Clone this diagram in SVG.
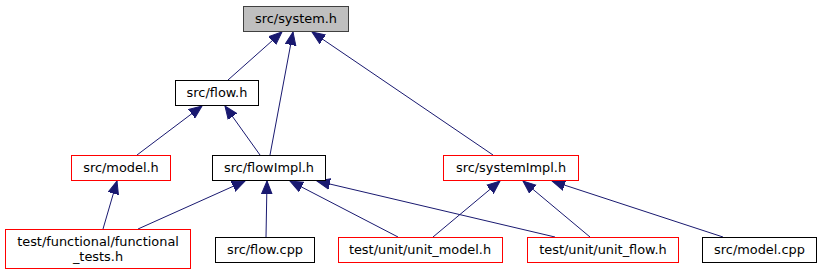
<svg xmlns="http://www.w3.org/2000/svg" width="821" height="276" viewBox="0 0 821 276">
  <style>
    .box { stroke-width: 1; fill: #ffffff; }
    .plain { stroke: #000000; }
    .red { stroke: #ff0000; }
    .root { fill: #bfbfbf; stroke: #404040; }
    text { font-family: "DejaVu Sans", sans-serif; font-size: 12.9px; fill: #000000; text-anchor: middle; }
    .edge { stroke: #191970; stroke-width: 1; fill: none; marker-end: url(#arrow); }
  </style>
  <defs>
    <marker id="arrow" markerUnits="userSpaceOnUse" markerWidth="14" markerHeight="12" viewBox="0 -6 14 12" refX="13" refY="0" orient="auto">
      <path d="M0,-5.3 L13,0 L0,5.3 Z" fill="#191970" stroke="#191970" stroke-width="1"/>
    </marker>
  </defs>
  <rect width="821" height="276" fill="#ffffff"/>

  <g id="edges">
    <line class="edge" x1="228" y1="80" x2="282" y2="32"/>
    <line class="edge" x1="270" y1="155" x2="293" y2="32"/>
    <line class="edge" x1="493" y1="155" x2="312" y2="32"/>
    <line class="edge" x1="137" y1="155" x2="202" y2="106"/>
    <line class="edge" x1="260" y1="155" x2="225" y2="106"/>
    <line class="edge" x1="103" y1="229" x2="117" y2="181"/>
    <line class="edge" x1="138" y1="229" x2="245" y2="181"/>
    <line class="edge" x1="266" y1="237" x2="267" y2="181"/>
    <line class="edge" x1="398" y1="237" x2="290" y2="181"/>
    <line class="edge" x1="555" y1="237" x2="317" y2="181"/>
    <line class="edge" x1="433" y1="237" x2="500" y2="181"/>
    <line class="edge" x1="590" y1="237" x2="523" y2="181"/>
    <line class="edge" x1="723" y1="237" x2="552" y2="181"/>
  </g>

  <g id="node-system-h">
    <rect class="box root" x="243.5" y="6.5" width="105" height="25"/>
    <text x="296" y="23">src/system.h</text>
  </g>
  <g id="node-flow-h">
    <rect class="box plain" x="175.5" y="80.5" width="83" height="25"/>
    <text x="217" y="97">src/flow.h</text>
  </g>
  <g id="node-model-h">
    <rect class="box red" x="71.5" y="155.5" width="99" height="25"/>
    <text x="121" y="172">src/model.h</text>
  </g>
  <g id="node-flowImpl-h">
    <rect class="box plain" x="212.5" y="155.5" width="113" height="25"/>
    <text x="269" y="172">src/flowImpl.h</text>
  </g>
  <g id="node-systemImpl-h">
    <rect class="box red" x="443.5" y="155.5" width="135" height="25"/>
    <text x="511" y="172">src/systemImpl.h</text>
  </g>
  <g id="node-functional-tests-h">
    <rect class="box red" x="5.5" y="229.5" width="185" height="39"/>
    <text x="98" y="245.5">test/functional/functional</text>
    <text x="98" y="260.5">_tests.h</text>
  </g>
  <g id="node-flow-cpp">
    <rect class="box plain" x="215.5" y="237.5" width="99" height="25"/>
    <text x="265" y="254">src/flow.cpp</text>
  </g>
  <g id="node-unit-model-h">
    <rect class="box red" x="338.5" y="237.5" width="164" height="25"/>
    <text x="420" y="254">test/unit/unit_model.h</text>
  </g>
  <g id="node-unit-flow-h">
    <rect class="box red" x="527.5" y="237.5" width="151" height="25"/>
    <text x="603" y="254">test/unit/unit_flow.h</text>
  </g>
  <g id="node-model-cpp">
    <rect class="box plain" x="702.5" y="237.5" width="114" height="25"/>
    <text x="759.5" y="254">src/model.cpp</text>
  </g>
</svg>
